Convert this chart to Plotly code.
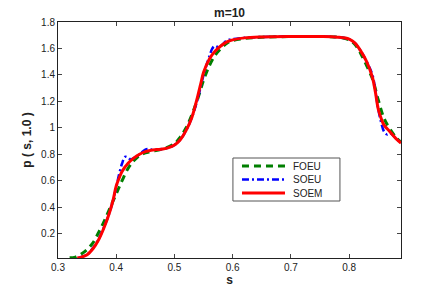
import plotly.graph_objects as go

# SOEM (red solid)
s_soem = [0.333, 0.34, 0.35, 0.36, 0.37, 0.38, 0.39, 0.395, 0.40, 0.405, 0.41, 0.42, 0.43, 0.44, 0.45, 0.46,
          0.47, 0.48, 0.49, 0.50, 0.51, 0.52, 0.53, 0.54, 0.545, 0.55, 0.56, 0.57, 0.58, 0.59, 0.60,
          0.62, 0.65, 0.70, 0.75, 0.78, 0.80, 0.81, 0.82, 0.83, 0.84, 0.845, 0.85, 0.855, 0.86,
          0.87, 0.88, 0.889]
p_soem = [0.016, 0.022, 0.04, 0.085, 0.155, 0.255, 0.38, 0.46, 0.56, 0.62, 0.67, 0.73, 0.77, 0.80, 0.82, 0.83,
          0.835, 0.84, 0.85, 0.87, 0.91, 0.98, 1.08, 1.24, 1.33, 1.42, 1.52, 1.58, 1.62, 1.65, 1.665,
          1.68, 1.687, 1.69, 1.69, 1.685, 1.67, 1.64, 1.58, 1.50, 1.38, 1.27, 1.14, 1.07, 1.02,
          0.97, 0.92, 0.885]

# FOEU (green dashed)
s_foeu = [0.32, 0.33, 0.34, 0.35, 0.36, 0.37, 0.38, 0.39, 0.40, 0.41, 0.42, 0.43, 0.44, 0.45, 0.46,
          0.48, 0.50, 0.51, 0.52, 0.53, 0.54, 0.55, 0.56, 0.57, 0.58, 0.59, 0.60, 0.62, 0.65,
          0.70, 0.75, 0.78, 0.80, 0.81, 0.82, 0.83, 0.84, 0.85, 0.86, 0.87, 0.88, 0.889]
p_foeu = [0.016, 0.022, 0.045, 0.08, 0.13, 0.21, 0.30, 0.40, 0.50, 0.60, 0.69, 0.75, 0.79, 0.81, 0.82,
          0.84, 0.88, 0.93, 1.00, 1.10, 1.22, 1.36, 1.47, 1.55, 1.60, 1.64, 1.66, 1.675, 1.685,
          1.69, 1.69, 1.685, 1.665, 1.63, 1.56, 1.47, 1.37, 1.21, 1.07, 0.99, 0.93, 0.89]

# SOEU (blue dash-dot)
s_soeu = [0.335, 0.35, 0.36, 0.37, 0.38, 0.39, 0.40, 0.405, 0.41, 0.415, 0.42, 0.425, 0.43, 0.44, 0.45,
          0.455, 0.46, 0.47, 0.48, 0.49, 0.50, 0.51, 0.52, 0.53, 0.54, 0.55, 0.56, 0.565, 0.57,
          0.575, 0.58, 0.59, 0.60, 0.62, 0.65, 0.70, 0.75, 0.78, 0.80, 0.81, 0.82, 0.83, 0.84,
          0.845, 0.85, 0.855, 0.86, 0.865, 0.87, 0.88, 0.889]
p_soeu = [0.016, 0.04, 0.09, 0.16, 0.26, 0.38, 0.55, 0.65, 0.73, 0.78, 0.775, 0.76, 0.77, 0.80, 0.835,
          0.84, 0.835, 0.835, 0.84, 0.85, 0.87, 0.91, 0.98, 1.08, 1.22, 1.40, 1.54, 1.60, 1.62,
          1.61, 1.62, 1.66, 1.67, 1.68, 1.687, 1.69, 1.69, 1.685, 1.67, 1.64, 1.58, 1.50, 1.40,
          1.28, 1.14, 1.04, 0.97, 0.95, 0.96, 0.92, 0.885]

series_names = ["FOEU", "SOEU", "SOEM"]
x_ticks = [0.3, 0.4, 0.5, 0.6, 0.7, 0.8]
y_ticks = [0.2, 0.4, 0.6, 0.8, 1.0, 1.2, 1.4, 1.6, 1.8]
y_tick_text = ["0.2", "0.4", "0.6", "0.8", "1", "1.2", "1.4", "1.6", "1.8"]

FONT = "Liberation Sans, Arial"
styles = [
    dict(color="#007f00", width=3, dash="7px,5px"),
    dict(color="#0000ff", width=2.5, dash="7px,3px,2px,3px"),
    dict(color="#ff0000", width=3, dash="solid"),
]

fig = go.Figure()
for name, xs, ys, st in zip(series_names, [s_foeu, s_soeu, s_soem], [p_foeu, p_soeu, p_soem], styles):
    fig.add_trace(go.Scatter(x=xs, y=ys, mode="lines", name=name, showlegend=False,
                             line=dict(color=st["color"], width=st["width"], dash=st["dash"], shape="spline")))

axis_common = dict(showline=True, linecolor="#222", linewidth=1, mirror="ticks",
                   ticks="inside", ticklen=4, tickcolor="#444", showgrid=False, zeroline=False,
                   automargin=False,
                   tickfont=dict(family=FONT, size=10, color="#222"))

fig.update_xaxes(range=[0.3, 0.889], tickvals=x_ticks, ticktext=[str(v) for v in x_ticks],
                 title=dict(text="<b>s</b>", font=dict(family=FONT, size=12, color="#222"), standoff=0),
                 **axis_common)
fig.update_yaxes(range=[0.015, 1.8], tickvals=y_ticks, ticktext=y_tick_text,
                 title=dict(text="<b>p ( s, 1.0 )</b>", font=dict(family=FONT, size=12, color="#222"), standoff=6),
                 **axis_common)

# Legend box drawn in paper coordinates (compact MATLAB-style legend)
box_x0, box_x1, box_y0, box_y1 = 0.510, 0.822, 0.2415, 0.4237
line_x0, line_x1, text_x = 0.5364, 0.6618, 0.6793
row_y = [0.3898, 0.3326, 0.2754]
shapes = [dict(type="rect", xref="paper", yref="paper", x0=box_x0, x1=box_x1, y0=box_y0, y1=box_y1,
               line=dict(color="#555", width=1), fillcolor="white", layer="above")]
annotations = []
for name, st, yy in zip(series_names, styles, row_y):
    shapes.append(dict(type="line", xref="paper", yref="paper", x0=line_x0, x1=line_x1, y0=yy, y1=yy,
                       line=dict(color=st["color"], width=st["width"], dash=st["dash"]), layer="above"))
    annotations.append(dict(xref="paper", yref="paper", x=text_x, y=yy, text=name, showarrow=False,
                            xanchor="left", yanchor="middle", font=dict(family=FONT, size=10, color="#222")))

fig.update_layout(
    width=443, height=291,
    margin=dict(l=58, r=42, t=22, b=33),
    paper_bgcolor="white", plot_bgcolor="white",
    title=dict(text="<b>m=10</b>", x=0.5, xanchor="center", xref="paper",
               y=1, yref="paper", yanchor="bottom", pad=dict(b=5),
               font=dict(family=FONT, size=12, color="#222")),
    shapes=shapes, annotations=annotations,
)

# remove the browser's default 8px body margin so the figure sits at the page origin
fig.write_html("out.html", config={"displayModeBar": False},
               post_script="document.body.style.margin='0';")
